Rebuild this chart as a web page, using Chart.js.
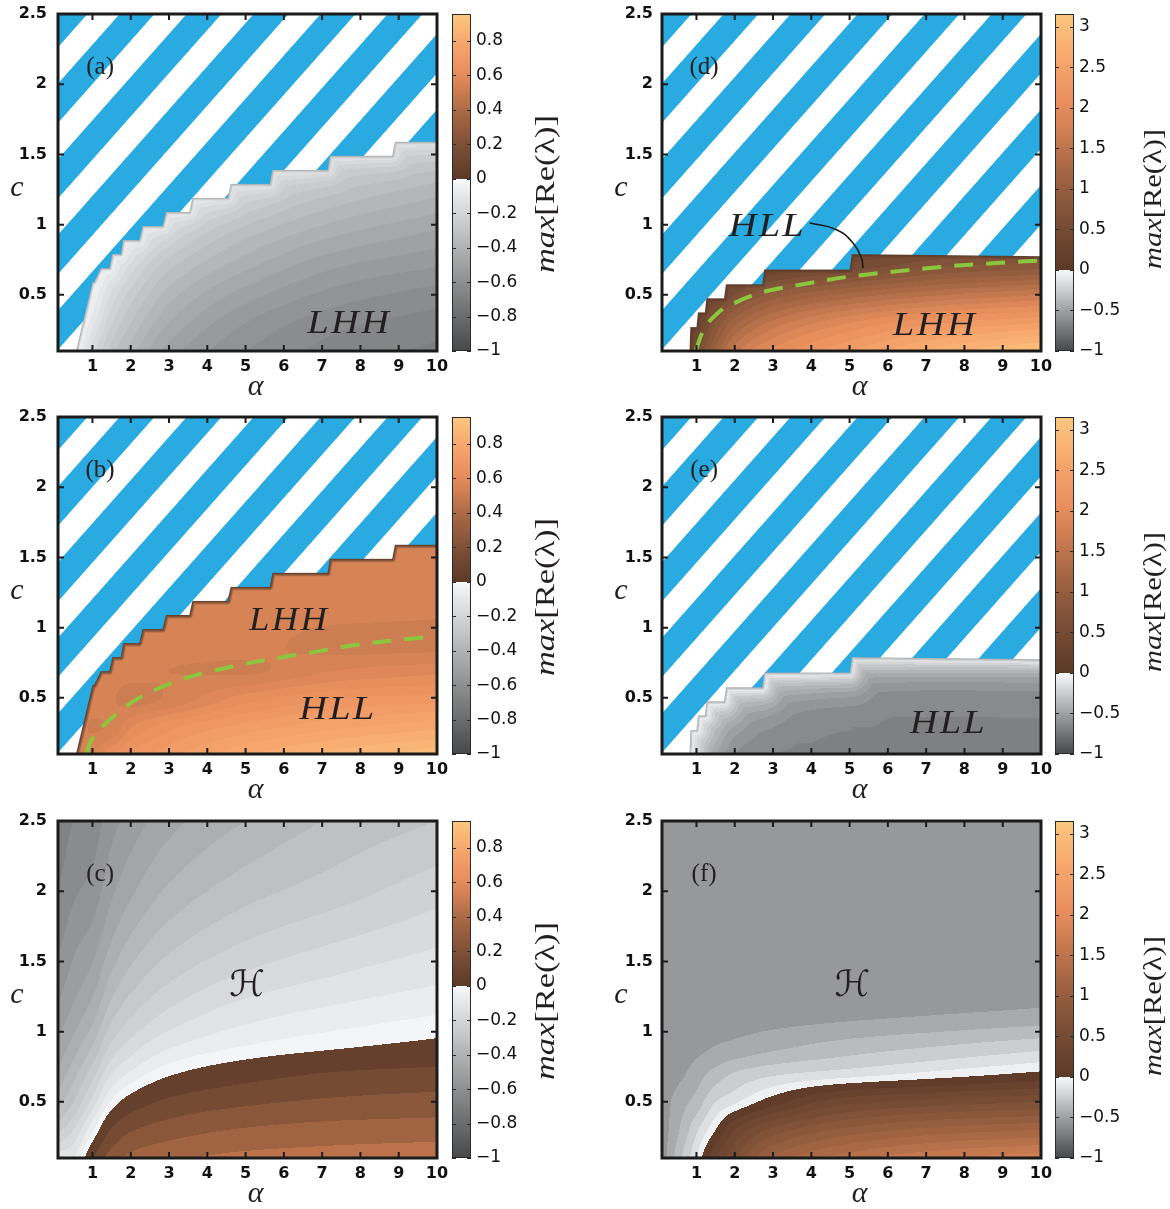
<!DOCTYPE html>
<html>
<head>
<meta charset="utf-8">
<script src="https://cdn.jsdelivr.net/npm/chart.js@4.4.1/dist/chart.umd.min.js"></script>
<style>
html,body{margin:0;padding:0;background:#fff;}
#wrap{position:relative;width:1170px;height:1209px;overflow:hidden;}
#wrap canvas{position:absolute;}
</style>
</head>
<body>
<div id="wrap"></div>
<script>
// ---------------- DATA ----------------
const alphaNodes = [0.1, 0.5, 1, 1.5, 2, 3, 5, 7.5, 10];
const cNodes = [0.1, 0.3, 0.5, 0.7, 0.9, 1.2, 1.6, 2.0, 2.5];

// max[Re(lambda)] estimated at (cNodes row, alphaNodes column)
const fieldA = [
  [-0.10, -0.10, -0.20, -0.30, -0.38, -0.50, -0.60, -0.66, -0.69],
  [-0.05, -0.06, -0.13, -0.24, -0.32, -0.44, -0.56, -0.63, -0.66],
  [-0.03, -0.04, -0.08, -0.18, -0.26, -0.38, -0.50, -0.58, -0.62],
  [-0.02, -0.03, -0.05, -0.11, -0.19, -0.31, -0.43, -0.52, -0.56],
  [-0.02, -0.02, -0.04, -0.07, -0.12, -0.23, -0.36, -0.45, -0.50],
  [-0.02, -0.02, -0.03, -0.05, -0.07, -0.12, -0.24, -0.34, -0.40],
  [-0.02, -0.02, -0.03, -0.04, -0.05, -0.07, -0.12, -0.20, -0.25],
  [-0.02, -0.02, -0.03, -0.04, -0.05, -0.06, -0.09, -0.13, -0.17],
  [-0.02, -0.02, -0.03, -0.04, -0.05, -0.05, -0.07, -0.09, -0.12]
];
const fieldB = [
  [0.55, 0.55, 0.56, 0.63, 0.67, 0.72, 0.80, 0.86, 0.90],
  [0.55, 0.55, 0.52, 0.53, 0.59, 0.65, 0.71, 0.76, 0.79],
  [0.55, 0.55, 0.55, 0.53, 0.51, 0.53, 0.61, 0.66, 0.68],
  [0.55, 0.55, 0.55, 0.55, 0.54, 0.525, 0.52, 0.56, 0.58],
  [0.55, 0.55, 0.55, 0.55, 0.55, 0.55, 0.54, 0.51, 0.51],
  [0.55, 0.55, 0.55, 0.55, 0.55, 0.55, 0.55, 0.55, 0.54],
  [0.55, 0.55, 0.55, 0.55, 0.55, 0.55, 0.55, 0.55, 0.55],
  [0.55, 0.55, 0.55, 0.55, 0.55, 0.55, 0.55, 0.55, 0.55],
  [0.55, 0.55, 0.55, 0.55, 0.55, 0.55, 0.55, 0.55, 0.55]
];
const fieldC = [
  [-0.12, -0.10,  0.09,  0.25,  0.33,  0.38,  0.43,  0.45,  0.47],
  [-0.27, -0.20, -0.06,  0.11,  0.19,  0.25,  0.31,  0.34,  0.35],
  [-0.37, -0.30, -0.18, -0.04,  0.04,  0.12,  0.18,  0.22,  0.24],
  [-0.44, -0.37, -0.27, -0.15, -0.09, -0.01,  0.06,  0.11,  0.13],
  [-0.49, -0.43, -0.35, -0.24, -0.18, -0.11, -0.05, -0.01,  0.02],
  [-0.55, -0.50, -0.44, -0.34, -0.28, -0.21, -0.14, -0.10, -0.07],
  [-0.61, -0.56, -0.52, -0.44, -0.38, -0.31, -0.24, -0.19, -0.15],
  [-0.65, -0.61, -0.58, -0.51, -0.46, -0.39, -0.32, -0.27, -0.22],
  [-0.69, -0.65, -0.63, -0.57, -0.53, -0.47, -0.40, -0.34, -0.30]
];
const fieldD = [
  [0.30, 0.30, 0.55, 1.10, 1.60, 2.00, 2.40, 2.80, 3.05],
  [0.20, 0.20, 0.30, 0.75, 1.15, 1.55, 1.95, 2.25, 2.40],
  [0.10, 0.10, 0.15, 0.35, 0.60, 0.95, 1.25, 1.50, 1.65],
  [0.05, 0.05, 0.05, 0.10, 0.15, 0.30, 0.50, 0.75, 0.85],
  [0.02, 0.02, 0.02, 0.03, 0.05, 0.10, 0.20, 0.30, 0.35],
  [0.02, 0.02, 0.02, 0.02, 0.03, 0.04, 0.05, 0.08, 0.10],
  [0.02, 0.02, 0.02, 0.02, 0.02, 0.02, 0.02, 0.02, 0.02],
  [0.02, 0.02, 0.02, 0.02, 0.02, 0.02, 0.02, 0.02, 0.02],
  [0.02, 0.02, 0.02, 0.02, 0.02, 0.02, 0.02, 0.02, 0.02]
];
const fieldE = [
  [-0.45, -0.45, -0.45, -0.55, -0.62, -0.66, -0.67, -0.67, -0.67],
  [-0.40, -0.40, -0.40, -0.48, -0.56, -0.63, -0.67, -0.67, -0.67],
  [-0.35, -0.35, -0.35, -0.42, -0.50, -0.58, -0.65, -0.67, -0.67],
  [-0.30, -0.30, -0.30, -0.36, -0.44, -0.52, -0.60, -0.64, -0.65],
  [-0.30, -0.30, -0.30, -0.33, -0.40, -0.48, -0.55, -0.60, -0.62],
  [-0.30, -0.30, -0.30, -0.33, -0.40, -0.48, -0.55, -0.60, -0.62],
  [-0.30, -0.30, -0.30, -0.33, -0.40, -0.48, -0.55, -0.60, -0.62],
  [-0.30, -0.30, -0.30, -0.33, -0.40, -0.48, -0.55, -0.60, -0.62],
  [-0.30, -0.30, -0.30, -0.33, -0.40, -0.48, -0.55, -0.60, -0.62]
];
const fieldF = [
  [-0.56, -0.35, -0.10,  0.30,  0.60,  1.10,  1.45,  1.65,  1.75],
  [-0.56, -0.42, -0.22,  0.00,  0.30,  0.65,  0.95,  1.12,  1.20],
  [-0.56, -0.46, -0.36, -0.20, -0.12,  0.08,  0.40,  0.52,  0.60],
  [-0.56, -0.53, -0.45, -0.36, -0.29, -0.22, -0.15, -0.06,  0.03],
  [-0.56, -0.56, -0.53, -0.50, -0.48, -0.43, -0.36, -0.30, -0.24],
  [-0.56, -0.56, -0.56, -0.56, -0.56, -0.56, -0.55, -0.53, -0.51],
  [-0.56, -0.56, -0.56, -0.56, -0.56, -0.56, -0.56, -0.56, -0.56],
  [-0.56, -0.56, -0.56, -0.56, -0.56, -0.56, -0.56, -0.56, -0.56],
  [-0.56, -0.56, -0.56, -0.56, -0.56, -0.56, -0.56, -0.56, -0.56]
];

// staircase edge of the computed region (above it: hatched)
const stairAlphaAB = [0.57, 1.00, 1.04, 1.22, 1.44, 1.52, 1.74, 1.80, 2.22, 2.31, 2.83, 2.92, 3.53, 3.61, 4.53, 4.61, 5.63, 5.70, 7.14, 7.20, 8.83, 8.90, 10.0];
const stairCAB     = [0.10, 0.59, 0.59, 0.69, 0.69, 0.79, 0.79, 0.89, 0.89, 0.99, 0.99, 1.09, 1.09, 1.19, 1.19, 1.29, 1.29, 1.39, 1.39, 1.49, 1.49, 1.59, 1.59];
const stairAlphaDE = [0.82, 0.84, 1.00, 1.04, 1.22, 1.26, 1.72, 1.77, 2.72, 2.77, 5.00, 5.06, 10.0];
const stairCDE     = [0.10, 0.27, 0.27, 0.375, 0.375, 0.475, 0.475, 0.575, 0.575, 0.68, 0.68, 0.79, 0.775];

// green dashed transition curves
const dashAlphaB = [0.83, 0.95, 1.24, 1.65, 2.22, 3.44, 4.48, 5.53, 6.66, 7.96, 10.0];
const dashCB     = [0.10, 0.19, 0.29, 0.39, 0.50, 0.64, 0.713, 0.77, 0.82, 0.88, 0.94];
const dashAlphaD = [0.98, 1.16, 1.55, 1.99, 2.64, 3.69, 4.90, 6.22, 7.53, 8.83, 10.0];
const dashCD     = [0.10, 0.236, 0.369, 0.441, 0.512, 0.571, 0.626, 0.667, 0.702, 0.726, 0.745];

// pointer from the HLL label in (d)
const arrowAlphaD = [3.96, 4.66, 5.09, 5.31, 5.35];
const arrowCD     = [1.012, 0.964, 0.869, 0.762, 0.69];

const xTickValues = [1, 2, 3, 4, 5, 6, 7, 8, 9, 10];
const yTickValues = [0.5, 1, 1.5, 2, 2.5];
const cbTicksLow  = [-1, -0.8, -0.6, -0.4, -0.2, 0, 0.2, 0.4, 0.6, 0.8];
const cbTicksHigh = [-1, -0.5, 0, 0.5, 1, 1.5, 2, 2.5, 3];
const cbMaxLow = 0.957, cbMaxHigh = 3.16;

// ---------------- helpers ----------------
const STRIPE_PX = 67, STRIPE_PY = 75.6, STRIPE_PHASE = 0.08, BLUE_FRAC = 0.52;
const BLUE = [41, 170, 225];
const posStops = [[0,92,58,40],[0.2,125,80,55],[0.4,168,104,69],[0.55,210,128,84],[0.65,233,143,94],[0.8,246,163,107],[1,253,200,128]];

function cmap(v, vmax) {
  if (v < 0) { const t = Math.min(1, -v); const g = 248 - 176 * t; return [g, g + 1, g + 2.5]; }
  const t = Math.max(0, Math.min(1, v / vmax));
  for (let i = 1; i < posStops.length; i++) {
    if (t <= posStops[i][0]) {
      const a = posStops[i - 1], b = posStops[i], f = (t - a[0]) / (b[0] - a[0]);
      return [a[1] + (b[1] - a[1]) * f, a[2] + (b[2] - a[2]) * f, a[3] + (b[3] - a[3]) * f];
    }
  }
  return posStops[posStops.length - 1].slice(1);
}
function pchipSlopes(x, y) {
  const n = x.length, h = [], del = [], m = new Array(n);
  for (let i = 0; i < n - 1; i++) { h[i] = x[i + 1] - x[i]; del[i] = (y[i + 1] - y[i]) / h[i]; }
  m[0] = del[0]; m[n - 1] = del[n - 2];
  for (let i = 1; i < n - 1; i++) {
    if (del[i - 1] * del[i] <= 0) m[i] = 0;
    else { const w1 = 2 * h[i] + h[i - 1], w2 = h[i] + 2 * h[i - 1]; m[i] = (w1 + w2) / (w1 / del[i - 1] + w2 / del[i]); }
  }
  return m;
}
function pchipEval(x, y, m, t) {
  const n = x.length;
  if (t <= x[0]) return y[0];
  if (t >= x[n - 1]) return y[n - 1];
  let k = 0; while (k < n - 2 && t > x[k + 1]) k++;
  const h = x[k + 1] - x[k], s = (t - x[k]) / h, s2 = s * s, s3 = s2 * s;
  return (2 * s3 - 3 * s2 + 1) * y[k] + (s3 - 2 * s2 + s) * h * m[k] + (-2 * s3 + 3 * s2) * y[k + 1] + (s3 - s2) * h * m[k + 1];
}

function renderField(chart, P) {
  const ctx = chart.ctx, A = chart.chartArea, xs = chart.scales.x, ys = chart.scales.y;
  const L = Math.round(A.left), T = Math.round(A.top), W = Math.round(A.right) - L, H = Math.round(A.bottom) - T;
  const off = document.createElement('canvas'); off.width = W; off.height = H;
  const octx = off.getContext('2d'); const img = octx.createImageData(W, H); const D = img.data;
  const colAlpha = new Float64Array(W);
  for (let i = 0; i < W; i++) colAlpha[i] = xs.getValueForPixel(L + i + 0.5);
  let bx = null, by = null, bpy = null;
  if (P.stairA) {
    bx = P.stairA.map(v => xs.getPixelForValue(v));
    by = P.stairC.map(v => ys.getPixelForValue(v));
    bpy = new Float64Array(W);
    for (let i = 0; i < W; i++) {
      const px = L + i + 0.5;
      if (px < bx[0]) { bpy[i] = Infinity; continue; }
      if (px >= bx[bx.length - 1]) { bpy[i] = by[by.length - 1]; continue; }
      let k = 0; while (k < bx.length - 2 && px > bx[k + 1]) k++;
      const f = (px - bx[k]) / (bx[k + 1] - bx[k]);
      bpy[i] = by[k] + (by[k + 1] - by[k]) * f;
    }
  }
  function distPoly(px, py) {
    let best = Infinity;
    for (let k = 0; k < bx.length - 1; k++) {
      const x0 = bx[k], y0 = by[k], dx = bx[k + 1] - x0, dy = by[k + 1] - y0;
      const l2 = dx * dx + dy * dy;
      let t = l2 ? ((px - x0) * dx + (py - y0) * dy) / l2 : 0;
      t = Math.max(0, Math.min(1, t));
      const ex = x0 + t * dx - px, ey = y0 + t * dy - py, d2 = ex * ex + ey * ey;
      if (d2 < best) best = d2;
    }
    return Math.sqrt(best);
  }
  const an = alphaNodes, cn = cNodes, G = P.field;
  const cols = an.map((_, i) => cn.map((_, j) => G[j][i]));
  const colM = cols.map(col => pchipSlopes(cn, col));
  const gph = Math.hypot(1 / STRIPE_PX, 1 / STRIPE_PY);
  for (let r = 0; r < H; r++) {
    const py = T + r + 0.5, c = ys.getValueForPixel(py);
    const vals = cols.map((col, i) => pchipEval(cn, col, colM[i], c));
    const ms = pchipSlopes(an, vals);
    for (let i = 0; i < W; i++) {
      const px = L + i + 0.5, o = (r * W + i) * 4;
      let cov = 1, dist = 1e3;
      if (bpy) {
        const inside = py > bpy[i];
        const near = Math.abs(py - bpy[i]) < 70 || (px > bx[0] - 3 && px < bx[0] + 70);
        let sd;
        if (near) { const dd = distPoly(px, py); sd = inside ? dd : -dd; } else sd = inside ? 1e3 : -1e3;
        cov = Math.max(0, Math.min(1, 0.5 + sd)); dist = Math.max(0, sd);
      }
      let fr = 0, fg = 0, fb = 0;
      if (cov > 0) {
        let v = pchipEval(an, vals, ms, colAlpha[i]);
        if (bpy) {
          if (P.glowAmp) v = v * (1 - P.glowAmp * Math.exp(-Math.max(0, dist - P.rimPx) / P.glowPx));
          if (dist < P.rimPx) { const t = dist / P.rimPx; v = P.rimVal * (1 - t) + v * t; }
        }
        if (v < 0) v = Math.max(-0.999, (Math.floor(v / P.negStep) + 0.5) * P.negStep);
        else v = (Math.floor(v / P.posStep) + 0.5) * P.posStep;
        const col = cmap(v, P.cbMax); fr = col[0]; fg = col[1]; fb = col[2];
      }
      let sr = 255, sg = 255, sb = 255;
      if (cov < 1) {
        const phi = (px - L) / STRIPE_PX + (py - T) / STRIPE_PY + STRIPE_PHASE;
        const f = phi - Math.floor(phi);
        let blue;
        if (f < BLUE_FRAC) blue = Math.min(1, 0.5 + Math.min(f, BLUE_FRAC - f) / gph);
        else blue = 1 - Math.min(1, 0.5 + Math.min(f - BLUE_FRAC, 1 - f) / gph);
        sr = 255 + (BLUE[0] - 255) * blue; sg = 255 + (BLUE[1] - 255) * blue; sb = 255 + (BLUE[2] - 255) * blue;
      }
      D[o] = sr + (fr - sr) * cov; D[o + 1] = sg + (fg - sg) * cov; D[o + 2] = sb + (fb - sb) * cov; D[o + 3] = 255;
    }
  }
  octx.putImageData(img, 0, 0);
  ctx.drawImage(off, L, T);
}

function drawSpaced(ctx, text, cx, cy, font, width) {
  ctx.font = font; ctx.textAlign = 'left'; ctx.textBaseline = 'alphabetic';
  const chars = [...text]; const ws = chars.map(ch => ctx.measureText(ch).width);
  const sum = ws.reduce((a, b) => a + b, 0);
  const s = Math.min(1.25, (width * 0.94) / sum);
  const gap = chars.length > 1 ? (width - sum * s) / (chars.length - 1) : 0;
  let x = cx - width / 2;
  chars.forEach((ch, i) => {
    ctx.save(); ctx.translate(x, cy); ctx.scale(s, 1); ctx.fillText(ch, 0, 0); ctx.restore();
    x += ws[i] * s + gap;
  });
}
function drawCbLabel(ctx, cx, cy, len, size) {
  ctx.save(); ctx.translate(cx, cy); ctx.rotate(-Math.PI / 2);
  const f1 = 'italic ' + size + 'px "Liberation Serif"', f2 = size + 'px "Liberation Serif"';
  ctx.font = f1; const w1 = ctx.measureText('max').width;
  ctx.font = f2; const w2 = ctx.measureText('[Re(λ)]').width;
  ctx.scale(len / (w1 + w2), 1);
  ctx.textBaseline = 'middle'; ctx.textAlign = 'left';
  const x = -(w1 + w2) / 2;
  ctx.font = f1; ctx.fillText('max', x, 0);
  ctx.font = f2; ctx.fillText('[Re(λ)]', x + w1, 0);
  ctx.restore();
}

function decorate(chart, P) {
  const ctx = chart.ctx, A = chart.chartArea, xs = chart.scales.x, ys = chart.scales.y, cb = chart.scales.cb;
  ctx.save();
  ctx.fillStyle = '#231f20';
  // texts inside plot
  ctx.font = '25px "Liberation Serif"'; ctx.textAlign = 'center'; ctx.textBaseline = 'middle';
  ctx.fillText(P.letter, xs.getPixelForValue(1.2), ys.getPixelForValue(2.12));
  P.labels.forEach(lb => {
    const x = xs.getPixelForValue(lb.a), y = ys.getPixelForValue(lb.c);
    if (lb.script) {
      ctx.font = '36px "DejaVu Sans"'; ctx.textAlign = 'center'; ctx.textBaseline = 'middle';
      ctx.fillText(lb.t, x, y);
    } else {
      drawSpaced(ctx, lb.t, x, y + 11, 'italic 33px "Liberation Serif"', lb.w);
    }
  });
  // frame
  ctx.strokeStyle = '#1b1b1b'; ctx.lineWidth = 3;
  ctx.strokeRect(A.left, A.top, A.right - A.left, A.bottom - A.top);
  ctx.lineWidth = 2; ctx.beginPath();
  xTickValues.forEach(v => { const x = xs.getPixelForValue(v); ctx.moveTo(x, A.bottom); ctx.lineTo(x, A.bottom - 6); ctx.moveTo(x, A.top); ctx.lineTo(x, A.top + 6); });
  yTickValues.forEach(v => { const y = ys.getPixelForValue(v); ctx.moveTo(A.left, y); ctx.lineTo(A.left + 6, y); ctx.moveTo(A.right, y); ctx.lineTo(A.right - 6, y); });
  ctx.stroke();
  // axis letters
  ctx.font = 'italic 30px "Liberation Serif"'; ctx.textAlign = 'center'; ctx.textBaseline = 'middle';
  ctx.fillText('c', A.left - 41, A.top + 174);
  ctx.fillText('α', (A.left + A.right) / 2 + 8, A.bottom + 36);
  // colorbar
  const x0 = A.right + P.cbGap, w = 19;
  for (let y = Math.round(A.top); y < Math.round(A.bottom); y++) {
    const col = cmap(cb.getValueForPixel(y + 0.5), P.cbMax);
    ctx.fillStyle = 'rgb(' + (col[0] | 0) + ',' + (col[1] | 0) + ',' + (col[2] | 0) + ')';
    ctx.fillRect(x0, y, w, 1);
  }
  ctx.strokeStyle = '#2a2a2a'; ctx.lineWidth = 1;
  ctx.strokeRect(x0 + 0.5, A.top + 0.5, w - 1, A.bottom - A.top - 1);
  ctx.beginPath();
  P.cbTicks.forEach(v => { const y = Math.round(cb.getPixelForValue(v)) + 0.5; ctx.moveTo(x0, y); ctx.lineTo(x0 + 4, y); ctx.moveTo(x0 + w, y); ctx.lineTo(x0 + w - 4, y); });
  ctx.stroke();
  ctx.fillStyle = '#231f20';
  drawCbLabel(ctx, A.right + P.cbLabelDx, A.top + P.cbLabelDy, P.cbLabelLen, P.cbLabelSize);
  ctx.restore();
}

function makePlugin(P) {
  return {
    id: 'field' + P.letter.replace(/[()]/g, ''),
    beforeDatasetsDraw(chart) { renderField(chart, P); },
    afterDatasetsDraw(chart) { decorate(chart, P); }
  };
}

// ---------------- panels ----------------
const panels = [
  { letter: '(a)', col: 0, row: 0, field: fieldA, stairA: stairAlphaAB, stairC: stairCAB, cbMax: cbMaxLow, cbTicks: cbTicksLow,
    negStep: 0.04, posStep: 0.04, rimPx: 3, rimVal: -0.45, glowAmp: 0.45, glowPx: 8,
    labels: [{ t: 'LHH', a: 7.68, c: 0.304, w: 82 }] },
  { letter: '(b)', col: 0, row: 1, field: fieldB, stairA: stairAlphaAB, stairC: stairCAB, cbMax: cbMaxLow, cbTicks: cbTicksLow,
    negStep: 0.04, posStep: 0.035, rimPx: 4, rimVal: 0.003, glowAmp: 0, glowPx: 1,
    labels: [{ t: 'LHH', a: 6.11, c: 1.064, w: 78 }, { t: 'HLL', a: 7.38, c: 0.43, w: 75 }],
    dashA: dashAlphaB, dashC: dashCB },
  { letter: '(c)', col: 0, row: 2, field: fieldC, stairA: null, cbMax: cbMaxLow, cbTicks: cbTicksLow,
    negStep: 0.05, posStep: 0.1, labels: [{ t: 'ℋ', a: 5.04, c: 1.32, script: true }] },
  { letter: '(d)', col: 1, row: 0, field: fieldD, stairA: stairAlphaDE, stairC: stairCDE, cbMax: cbMaxHigh, cbTicks: cbTicksHigh,
    negStep: 0.1, posStep: 0.15, rimPx: 4, rimVal: 0.01, glowAmp: 0, glowPx: 1,
    labels: [{ t: 'HLL', a: 2.82, c: 1.0, w: 75 }, { t: 'LHH', a: 7.2, c: 0.293, w: 82 }],
    dashA: dashAlphaD, dashC: dashCD, arrowA: arrowAlphaD, arrowC: arrowCD },
  { letter: '(e)', col: 1, row: 1, field: fieldE, stairA: stairAlphaDE, stairC: stairCDE, cbMax: cbMaxHigh, cbTicks: cbTicksHigh,
    negStep: 0.06, posStep: 0.15, rimPx: 3, rimVal: -0.45, glowAmp: 0.8, glowPx: 14,
    labels: [{ t: 'HLL', a: 7.55, c: 0.326, w: 75 }] },
  { letter: '(f)', col: 1, row: 2, field: fieldF, stairA: null, cbMax: cbMaxHigh, cbTicks: cbTicksHigh,
    negStep: 0.1, posStep: 0.15, labels: [{ t: 'ℋ', a: 5.07, c: 1.32, script: true }] }
];

const rowTops = [0, 403, 807];
const rowHeights = [404, 404, 402];
const wrap = document.getElementById('wrap');
const fmtCb = v => (v < 0 ? '\u2212' + String(Math.abs(v)) : String(v));
const noPad = s => { s.paddingTop = 0; s.paddingBottom = 0; s.paddingLeft = 0; s.paddingRight = 0; };

panels.forEach(P => {
  const W = 585, H = rowHeights[P.row];
  const plotLeft = P.col ? 77 : 58, plotRight = P.col ? 456 : 437;
  P.cbGap = P.col ? 14 : 15;
  P.cbLabelDx = P.col ? 113 : 110; P.cbLabelDy = P.col ? 185 : 180;
  P.cbLabelLen = P.col ? 140 : 158; P.cbLabelSize = P.col ? 25 : 28;
  const cv = document.createElement('canvas');
  cv.width = W; cv.height = H;
  cv.style.left = (P.col * 585) + 'px'; cv.style.top = rowTops[P.row] + 'px';
  cv.style.width = W + 'px'; cv.style.height = H + 'px';
  wrap.appendChild(cv);
  const datasets = [];
  if (P.dashA) datasets.push({
    data: P.dashA.map((a, i) => ({ x: a, y: P.dashC[i] })), showLine: true, pointRadius: 0,
    borderColor: '#8cc63f', borderWidth: 4, borderDash: [19, 13], cubicInterpolationMode: 'monotone', fill: false
  });
  if (P.arrowA) datasets.push({
    data: P.arrowA.map((a, i) => ({ x: a, y: P.arrowC[i] })), showLine: true, pointRadius: 0,
    borderColor: '#1a1a1a', borderWidth: 1.6, tension: 0.45, fill: false, clip: false
  });
  const tickFont = { family: 'DejaVu Sans', weight: 'bold', size: 16 };
  new Chart(cv, {
    type: 'scatter',
    data: { datasets },
    options: {
      responsive: false, animation: false, devicePixelRatio: 1, events: [],
      layout: { padding: { top: 14, left: 0, right: 0, bottom: 0 }, autoPadding: false },
      plugins: { legend: { display: false }, tooltip: { enabled: false } },
      scales: {
        x: {
          type: 'linear', position: 'bottom', min: 0.1, max: 10,
          afterBuildTicks: s => { s.ticks = xTickValues.map(v => ({ value: v })); },
          afterFit: s => { s.height = H - 351; noPad(s); },
          grid: { display: false, drawTicks: false }, border: { display: false },
          ticks: { font: tickFont, color: '#111', padding: 6, maxRotation: 0, autoSkip: false, callback: v => String(v) }
        },
        y: {
          type: 'linear', position: 'left', min: 0.1, max: 2.5,
          afterBuildTicks: s => { s.ticks = yTickValues.map(v => ({ value: v })); },
          afterFit: s => { s.width = plotLeft; noPad(s); },
          grid: { display: false, drawTicks: false }, border: { display: false },
          ticks: { font: tickFont, color: '#111', padding: P.col ? 9 : 11, autoSkip: false, callback: v => String(v) }
        },
        cb: {
          type: 'linear', position: 'right', min: -1, max: P.cbMax,
          afterBuildTicks: s => { s.ticks = P.cbTicks.map(v => ({ value: v })); },
          afterFit: s => { s.width = W - plotRight; noPad(s); },
          grid: { display: false, drawTicks: false }, border: { display: false },
          ticks: { font: { family: 'DejaVu Sans', size: 17 }, color: '#111', padding: P.cbGap + 24, autoSkip: false, callback: v => fmtCb(v) }
        }
      }
    },
    plugins: [makePlugin(P)]
  });
});
</script>
</body>
</html>
